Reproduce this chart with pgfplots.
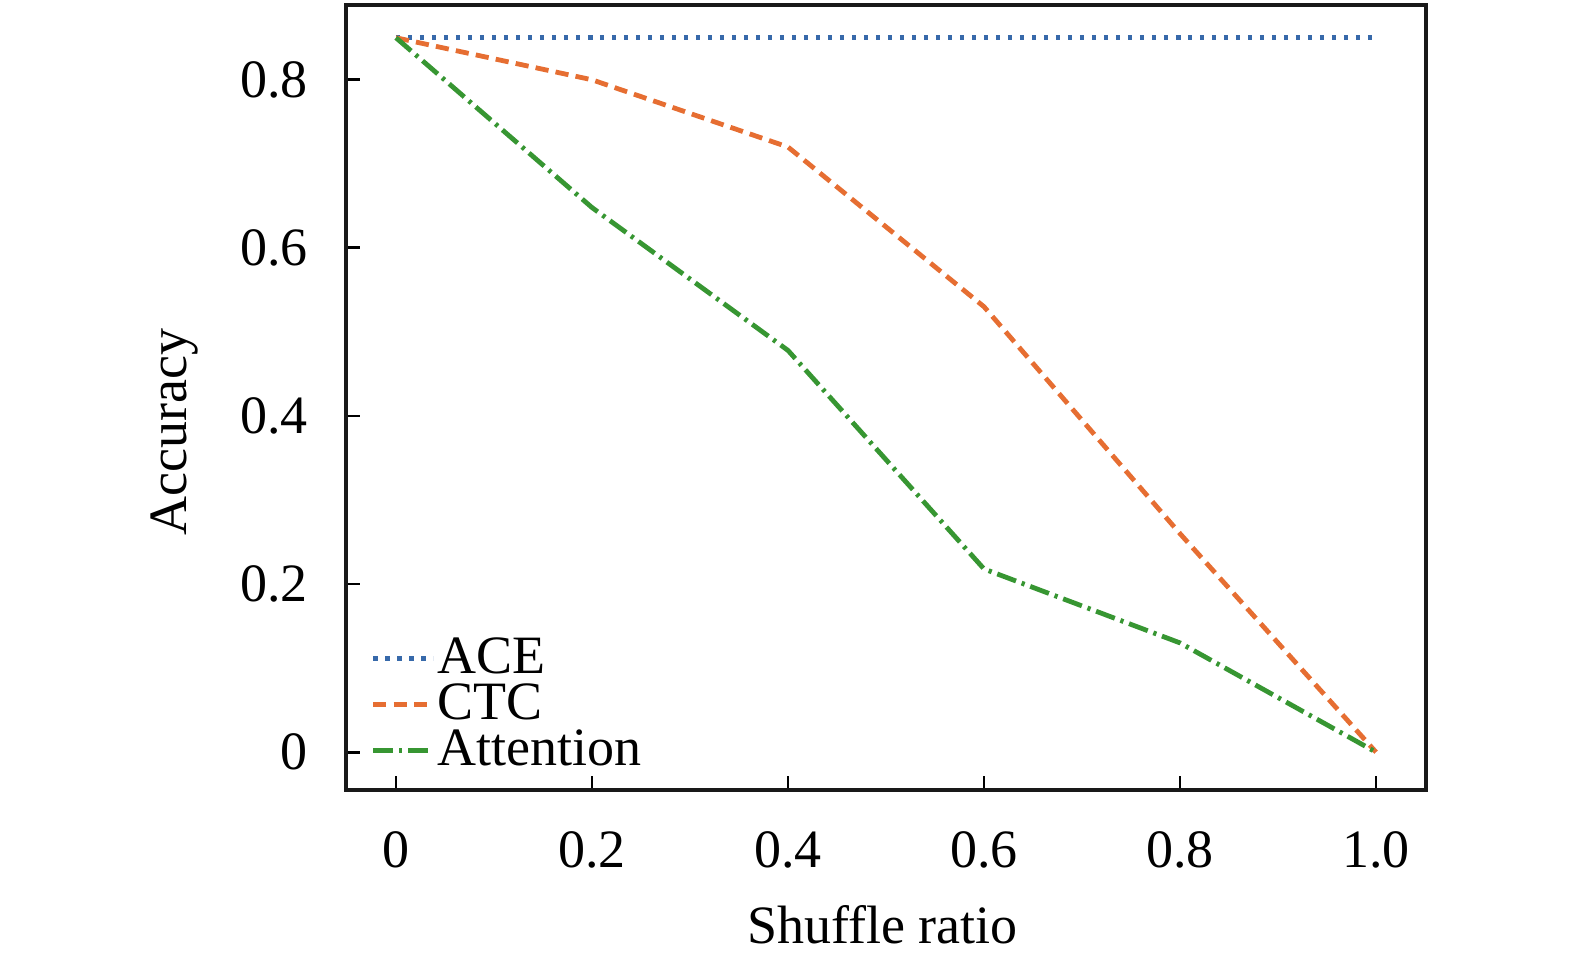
\documentclass[border=0pt]{standalone}
\usepackage{pgfplots}
\pgfplotsset{compat=1.18}
\usepackage{fontspec}
\setmainfont{Liberation Serif}
\definecolor{cblue}{RGB}{55,105,170}
\definecolor{corange}{RGB}{230,110,50}
\definecolor{cgreen}{RGB}{55,150,50}
\begin{document}
\begin{tikzpicture}
\begin{axis}[
  at={(0,0)}, anchor=south west,
  scale only axis, width=270pt, height=196.25pt,
  xmin=-0.051, xmax=1.051, ymin=-0.045, ymax=0.889,
  axis line style={line width=1pt, black!90},
  tick style={line width=0.7pt, black},
  tick align=inside, major tick length=3.5pt,
  xtick={0,0.2,0.4,0.6,0.8,1.0},
  xticklabels={0,0.2,0.4,0.6,0.8,1.0},
  ytick={0,0.2,0.4,0.6,0.8},
  yticklabels={0,0.2,0.4,0.6,0.8},
  xtick pos=bottom, ytick pos=left,
  font=\fontsize{13.5}{16}\selectfont,
  xticklabel style={yshift=-6.8pt},
  yticklabel style={xshift=-6pt},
  xlabel={Shuffle ratio}, ylabel={Accuracy},
  every axis x label/.style={at={(axis description cs:0.497,0)}, anchor=center, yshift=-33.75pt},
  every axis y label/.style={at={(axis description cs:0,0.456)}, anchor=center, xshift=-42.75pt, rotate=90},
  legend style={draw=none, fill=none, at={(axis description cs:0,0)}, anchor=south west, xshift=5pt, yshift=3pt, row sep=0pt, font=\fontsize{13.5}{16}\selectfont, inner sep=1pt, nodes={inner sep=0.5pt, text height=9pt, text depth=1.5pt}},
  legend cell align=left,
  legend image code/.code={\draw[#1] (0pt,0pt) -- (15pt,0pt);},
]
\addplot[cblue, line width=1.2pt, dash pattern=on 1.1pt off 1.9pt] coordinates {(0,0.85) (0.2,0.85) (0.4,0.85) (0.6,0.85) (0.8,0.85) (1.0,0.85)};
\addlegendentry{ACE}
\addplot[corange, line width=1.2pt, dash pattern=on 3.3pt off 1.8pt] coordinates {(0,0.85) (0.2,0.80) (0.4,0.72) (0.6,0.53) (0.8,0.26) (1.0,0.0)};
\addlegendentry{CTC}
\addplot[cgreen, line width=1.2pt, dash pattern=on 5pt off 1.5pt on 0.8pt off 1.5pt] coordinates {(0,0.85) (0.2,0.648) (0.4,0.478) (0.6,0.218) (0.8,0.13) (1.0,0.0)};
\addlegendentry{Attention}
\end{axis}
\pgfresetboundingbox
\path[use as bounding box] (-86.5pt,-44.75pt) rectangle (307.25pt,197.5pt);
\end{tikzpicture}
\end{document}
